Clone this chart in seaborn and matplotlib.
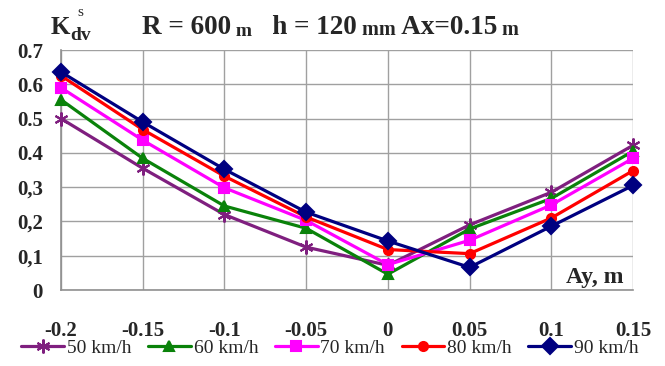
import pandas as pd
import matplotlib.pyplot as plt
import seaborn as sns

# data
ay = [-0.2, -0.15, -0.1, -0.05, 0, 0.05, 0.1, 0.15]
k_50 = [0.50, 0.355, 0.22, 0.125, 0.072, 0.19, 0.285, 0.422]
k_60 = [0.555, 0.384, 0.245, 0.18, 0.046, 0.178, 0.267, 0.405]
k_70 = [0.59, 0.437, 0.298, 0.203, 0.074, 0.145, 0.248, 0.384]
k_80 = [0.625, 0.468, 0.332, 0.213, 0.118, 0.106, 0.21, 0.348]
k_90 = [0.636, 0.49, 0.352, 0.227, 0.143, 0.066, 0.186, 0.305]
speeds = ['50 km/h', '60 km/h', '70 km/h', '80 km/h', '90 km/h']
y_ticks = [0, 0.1, 0.2, 0.3, 0.4, 0.5, 0.6, 0.7]
y_tick_labels = ['0', '0,1', '0,2', '0,3', '0.4', '0.5', '0.6', '0.7']
x_tick_labels = ['-0.2', '-0.15', '-0.1', '-0.05', '0', '0.05', '0.1', '0.15']

series = [k_50, k_60, k_70, k_80, k_90]
colors = ['#7f1f7f', '#0a820a', '#ff00ff', '#ff0000', '#000080']
markers = [(6, 2, 0), '^', 's', 'o', 'D']
msizes = [10, 7, 7, 6.5, 8]

sns.set_style('white')
plt.rcParams['font.family'] = ['Liberation Serif', 'DejaVu Serif']

W, H = 665, 366
fig = plt.figure(figsize=(W / 100, H / 100), dpi=100)
ax = fig.add_axes([61 / W, 1 - 290 / H, (633 - 61) / W, (290 - 50) / H])

for vals, name, c, m, ms in zip(series, speeds, colors, markers, msizes):
    df = pd.DataFrame({'Ay': ay, 'K': vals})
    sns.lineplot(data=df, x='Ay', y='K', ax=ax, color=c, marker=m, markersize=ms,
                 markeredgecolor=c, markeredgewidth=1.5, linewidth=2.3, label=name,
                 clip_on=False, zorder=3)

ax.set_xlim(-0.2, 0.15)
ax.set_ylim(0, 0.7)
ax.set_xticks(ay)
ax.set_xticklabels(x_tick_labels, fontsize=15, fontweight='bold')
ax.set_yticks(y_ticks)
ax.set_yticklabels(y_tick_labels, fontsize=15, fontweight='bold')
ax.tick_params(axis='x', length=0, pad=22)
ax.tick_params(axis='y', length=0, pad=13)
ax.grid(True, color='#a0a0a0', linewidth=1)
ax.set_xlabel('')
ax.set_ylabel('')
for s in ['top', 'right']:
    ax.spines[s].set_visible(False)
for s in ['left', 'bottom']:
    ax.spines[s].set_color('#909090')
    ax.spines[s].set_linewidth(1.2)

ax.text(0.933, 0.01, 'Ay, m', transform=ax.transAxes, ha='center', va='bottom',
        fontsize=17, fontweight='bold', zorder=5)

# y label K with sub/superscript
fig.text(51 / W, 1 - 34 / H, 'K', fontsize=18, fontweight='bold', va='baseline')
fig.text(70 / W, 1 - 40 / H, 'dv', fontsize=14, fontweight='bold', va='baseline')
fig.text(77 / W, 1 - 16 / H, 's', fontsize=11, va='baseline')

# title built from pieces with different sizes
parts = [('R = 600', 19.5), (' m', 14), ('   h = 120', 19.5), (' mm', 14.5),
         (' Ax=0.15', 19.5), (' m', 14.5)]
prev = fig.text(142 / W, 1 - 34 / H, parts[0][0], fontsize=parts[0][1],
                fontweight='bold', va='baseline')
for txt, fs in parts[1:]:
    prev = ax.annotate(txt, xy=(1, 0), xycoords=prev, va='bottom', ha='left',
                       fontsize=fs, fontweight='bold', annotation_clip=False)

ax.get_legend().remove()
handles, labels = ax.get_legend_handles_labels()
fig.legend(handles, labels, loc='center', bbox_to_anchor=(330 / W, 1 - 348 / H),
           ncol=5, frameon=False, fontsize=14, handlelength=2.2, handletextpad=0.15,
           columnspacing=0.85, borderaxespad=0, borderpad=0)

fig.savefig('out.png', dpi=100)
